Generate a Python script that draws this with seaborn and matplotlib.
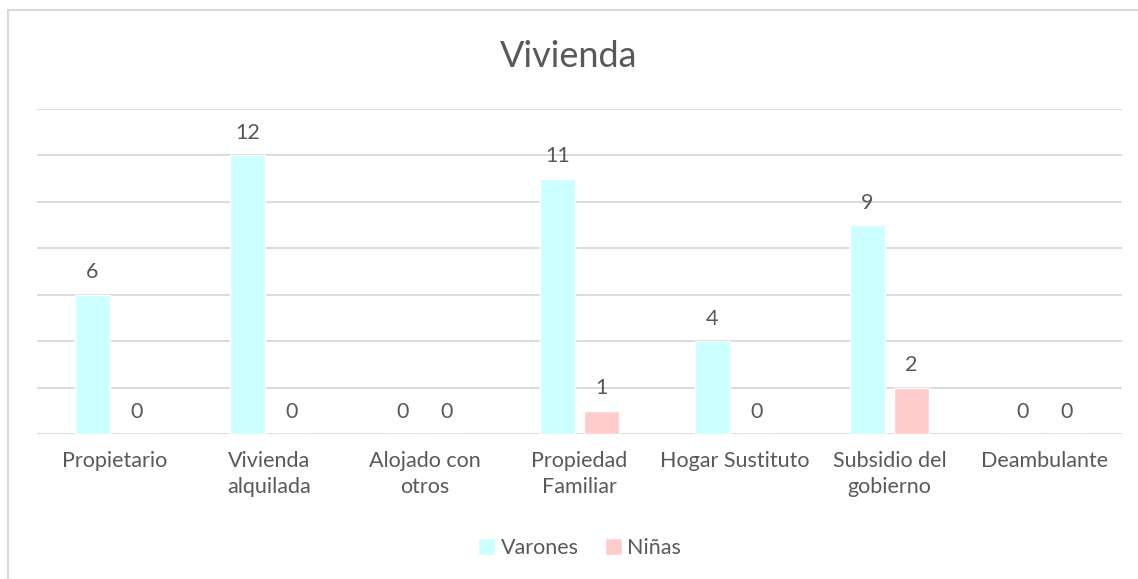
import pandas as pd
import matplotlib
matplotlib.use('Agg')
import matplotlib.pyplot as plt
import seaborn as sns
from matplotlib.patches import Rectangle

# Datos del gráfico
categorias = ['Propietario', 'Vivienda\nalquilada', 'Alojado con\notros', 'Propiedad\nFamiliar',
              'Hogar Sustituto', 'Subsidio del\ngobierno', 'Deambulante']
varones = [6, 12, 0, 11, 4, 9, 0]
ninas = [0, 0, 0, 1, 0, 2, 0]
series = ['Varones', 'Niñas']
colores = ['#CCFFFF', '#FFCCCC']

df = pd.DataFrame({
    'categoria': categorias * 2,
    'valor': varones + ninas,
    'grupo': [series[0]] * len(categorias) + [series[1]] * len(categorias),
})

sns.set_style('white')
plt.rcParams['font.family'] = ['Lato', 'DejaVu Sans']
gris = '#595959'

fig = plt.figure(figsize=(11.38, 5.79), dpi=100)
ax = fig.add_axes([0.0325, 0.2504, 0.9535, 0.5613])

sns.barplot(data=df, x='categoria', y='valor', hue='grupo', palette=colores,
            width=0.57, gap=0.2, ax=ax, legend=True, saturation=1)

ax.set_ylim(0, 14)
ax.set_yticks(range(0, 15, 2))
ax.yaxis.grid(True, color='#D9D9D9', linewidth=1.3)
ax.set_axisbelow(True)
ax.set_xlim(-0.5, len(categorias) - 0.5)
for s in ax.spines.values():
    s.set_visible(False)
ax.tick_params(axis='y', left=False, labelleft=False)
ax.tick_params(axis='x', bottom=False, labelsize=15.5, labelcolor=gris, pad=9)
for t in ax.get_xticklabels():
    t.set_linespacing(1.35)
ax.set_xlabel('')
ax.set_ylabel('')

for cont in ax.containers:
    ax.bar_label(cont, fmt='%d', padding=9, fontsize=15.5, color=gris)

ax.legend(loc='center', bbox_to_anchor=(0.5, -0.35), ncol=2, frameon=False,
          fontsize=15.5, labelcolor=gris, handlelength=0.8, handleheight=0.8,
          handletextpad=0.25, columnspacing=1.2)

fig.text(0.5, 0.903, 'Vivienda', ha='center', va='center', fontsize=26, color=gris)

# Marco exterior del gráfico
fig.patches.append(Rectangle((8 / 1138, -0.05), 1.2, 1 - 10 / 579 + 0.05,
                             transform=fig.transFigure, fill=False,
                             edgecolor='#D9D9D9', linewidth=1.5))

fig.savefig('out.png', dpi=100)
